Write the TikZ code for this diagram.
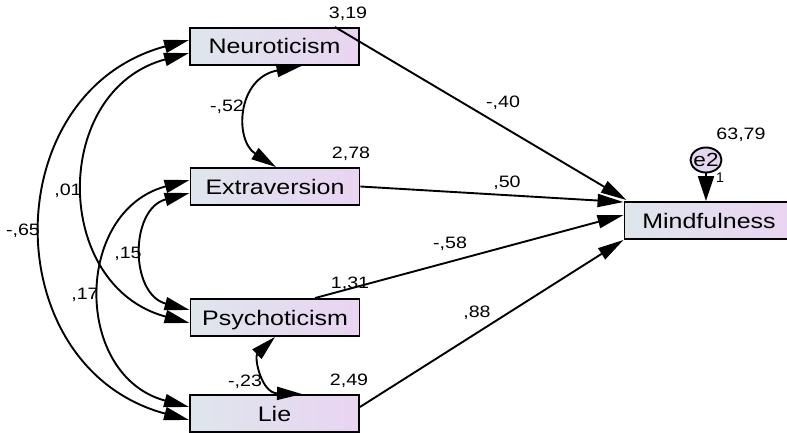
\documentclass[tikz,border=0pt]{standalone}
\usepackage{fontspec}
\setmainfont{Liberation Sans}
\usepackage{graphicx}
\usetikzlibrary{arrows.meta,shapes.geometric}
\definecolor{boxL}{RGB}{222,230,236}
\definecolor{boxR}{RGB}{234,212,242}
\definecolor{errc}{RGB}{228,214,238}
\newcommand{\wx}[1]{\scalebox{1.19}[1]{#1}}
\begin{document}
\begin{tikzpicture}[x=1pt,y=-1pt,
  var/.style={draw=black, line width=1.9pt, left color=boxL, right color=boxR,
    minimum width=169pt, minimum height=37pt, inner sep=0pt,
    font=\fontsize{21}{24}\selectfont, text height=15pt, text depth=0pt},
  lbl/.style={inner sep=0pt, font=\fontsize{16.5}{19}\selectfont, text height=11.8pt, text depth=0pt},
  conn/.style={line width=1.9pt, -{Triangle[length=26pt,width=13pt]}},
  cov/.style={line width=1.9pt, {Triangle[length=25pt,width=13pt]}-{Triangle[length=25pt,width=13pt]}}]
\useasboundingbox (0,0) rectangle (787,433);

% variables
\node[var] (N) at (274.5,46.5) {\wx{Neuroticism}};
\node[var] (E) at (275,186.5) {\wx{Extraversion}};
\node[var] (P) at (275,317.5) {\wx{Psychoticism}};
\node[var] (L) at (274.5,413.5) {\wx{Lie}};
\node[var] (M) at (709,220.5) {\wx{Mindfulness}};

% error term
\node[draw=black, ellipse, line width=1.9pt, fill=errc, minimum width=31pt, minimum height=25pt, inner sep=0pt] (e2) at (706,160) {};
\node[inner sep=0pt, font=\fontsize{19}{22}\selectfont, text height=13.5pt, text depth=0pt] (e2t) at (706,160) {\wx{e2}};
\node[inner sep=0pt, font=\fontsize{14}{16}\selectfont] (one) at (720,178) {1};
\draw[line width=1.9pt, -{Triangle[length=25pt,width=16pt]}] (e2.south) -- (e2.south |- M.north);

% regression paths
\draw[conn] ([xshift=60.5pt]N.north) -- ([xshift=3pt,yshift=1pt]M.north west);
\draw[conn] (E.east) -- ([yshift=-1pt]M.north west);
\draw[conn] ([xshift=40pt]P.north) -- ([yshift=5.5pt]M.west);
\draw[conn] ([yshift=6.5pt]L.east) -- (M.south west);

% covariances
\draw[cov] ([yshift=6.5pt]N.west) .. controls +(-194,52) and +(-194,-52) .. ([yshift=-6.5pt]L.west);
\draw[cov] ([yshift=-6.5pt]N.west) .. controls +(-138,37) and +(-138,-37) .. ([yshift=-5.5pt]P.west);
\draw[cov] ([yshift=6.5pt]E.west) .. controls +(-116,31) and +(-116,-31) .. ([yshift=6.5pt]L.west);
\draw[cov] ([yshift=-6.5pt]E.west) .. controls +(-60,16) and +(-60,-16) .. ([yshift=7.5pt]P.west);
\draw[cov] ([xshift=27pt]N.south) .. controls (237,78) and (234,140) .. ([xshift=1pt]E.north);
\draw[cov] (P.south) .. controls (254,357) and (261,393) .. ([xshift=27.5pt]L.north);

% labels
\node[lbl] (t319) at (348,12.5) {\wx{3,19}};
\node[lbl] (t52) at (227,106) {\wx{-,52}};
\node[lbl] (t278) at (351,153) {\wx{2,78}};
\node[lbl] (t01) at (68,190) {\wx{,01}};
\node[lbl] (t65) at (23,230) {\wx{-,65}};
\node[lbl] (t15) at (128,253) {\wx{,15}};
\node[lbl] (t17) at (85,294) {\wx{,17}};
\node[lbl] (t131) at (350,283) {\wx{1,31}};
\node[lbl] (t23) at (245,381) {\wx{-,23}};
\node[lbl] (t249) at (349,380) {\wx{2,49}};
\node[lbl] (t40) at (503,102) {\wx{-,40}};
\node[lbl] (t50) at (507,182) {\wx{,50}};
\node[lbl] (t58) at (450,243) {\wx{-,58}};
\node[lbl] (t88) at (477,312) {\wx{,88}};
\node[lbl] (t6379) at (741,134) {\wx{63,79}};
\end{tikzpicture}
\end{document}
